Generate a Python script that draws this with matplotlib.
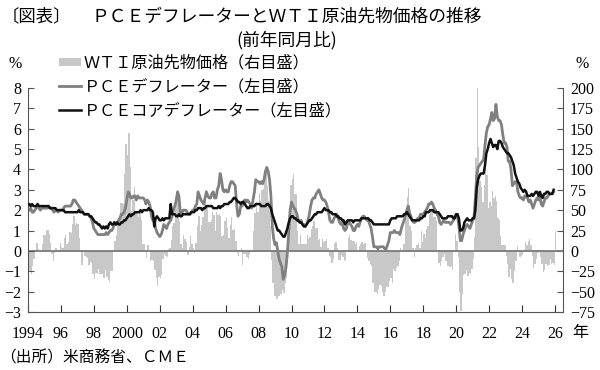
import matplotlib
matplotlib.use("Agg")
import matplotlib.pyplot as plt
import matplotlib.dates as mdates
import pandas as pd
from matplotlib.patches import Patch

# PCE deflator, y/y % (monthly, Jan 1994 - Dec 2025)
pce = [
    2.0, 2.0, 2.1, 1.9, 1.9, 2.0, 2.1, 2.2, 2.1, 2.0, 2.1, 2.1,  # 1994
    2.1, 2.1, 2.1, 2.2, 2.1, 2.1, 2.0, 1.9, 2.0, 2.0, 1.9, 2.0,  # 1995
    2.0, 2.0, 2.1, 2.2, 2.2, 2.2, 2.2, 2.2, 2.3, 2.5, 2.5, 2.4,  # 1996
    2.3, 2.2, 2.1, 2.0, 1.9, 1.8, 1.8, 1.8, 1.8, 1.7, 1.6, 1.4,  # 1997
    1.1, 1.0, 0.9, 0.8, 0.8, 0.8, 0.8, 0.8, 0.8, 0.9, 0.8, 0.9,  # 1998
    1.0, 1.0, 1.1, 1.4, 1.3, 1.3, 1.5, 1.6, 1.8, 1.8, 1.9, 2.1,  # 1999
    2.5, 2.9, 2.8, 2.6, 2.6, 2.7, 2.7, 2.5, 2.7, 2.6, 2.6, 2.6,  # 2000
    2.6, 2.5, 2.3, 2.5, 2.4, 2.2, 1.7, 1.5, 1.5, 1.1, 0.9, 0.8,  # 2001
    0.7, 0.8, 1.0, 1.3, 1.2, 1.1, 1.3, 1.4, 1.5, 1.7, 2.0, 2.2,  # 2002
    2.5, 2.9, 2.7, 1.9, 1.8, 2.0, 2.0, 2.0, 1.9, 1.8, 1.8, 1.9,  # 2003
    2.0, 2.0, 2.2, 2.3, 2.9, 2.7, 2.5, 2.4, 2.3, 2.6, 2.9, 2.7,  # 2004
    2.6, 2.6, 2.8, 2.9, 2.6, 2.6, 3.0, 3.2, 3.8, 3.5, 3.0, 2.9,  # 2005
    3.0, 2.9, 2.9, 3.2, 3.4, 3.4, 3.3, 3.2, 2.3, 1.7, 1.8, 2.2,  # 2006
    2.2, 2.4, 2.5, 2.4, 2.5, 2.4, 2.3, 2.1, 2.5, 2.9, 3.5, 3.4,  # 2007
    3.4, 3.3, 3.4, 3.3, 3.5, 3.9, 4.1, 3.9, 3.5, 2.7, 1.2, 0.6,  # 2008
    0.3, 0.4, 0.0, -0.4, -0.6, -0.8, -1.4, -1.2, -0.8, -0.1, 1.0, 2.0,  # 2009
    2.4, 2.2, 2.1, 2.0, 1.8, 1.5, 1.4, 1.5, 1.3, 1.3, 1.2, 1.3,  # 2010
    1.5, 1.8, 2.2, 2.5, 2.6, 2.6, 2.8, 2.9, 3.0, 2.8, 2.6, 2.5,  # 2011
    2.5, 2.4, 2.2, 1.9, 1.5, 1.4, 1.4, 1.6, 1.7, 1.8, 1.6, 1.4,  # 2012
    1.3, 1.4, 1.1, 1.0, 1.1, 1.4, 1.4, 1.3, 1.2, 1.0, 1.0, 1.2,  # 2013
    1.3, 1.2, 1.4, 1.6, 1.7, 1.7, 1.6, 1.5, 1.5, 1.3, 1.1, 0.7,  # 2014
    0.2, 0.2, 0.2, 0.1, 0.2, 0.2, 0.2, 0.2, 0.1, 0.1, 0.3, 0.5,  # 2015
    0.9, 0.9, 0.9, 1.0, 0.9, 0.9, 0.9, 0.8, 1.1, 1.3, 1.5, 1.7,  # 2016
    2.0, 2.2, 1.9, 1.7, 1.5, 1.4, 1.4, 1.5, 1.6, 1.6, 1.8, 1.8,  # 2017
    1.8, 1.9, 2.0, 2.1, 2.3, 2.3, 2.4, 2.3, 2.1, 2.0, 1.8, 1.7,  # 2018
    1.4, 1.3, 1.4, 1.5, 1.4, 1.4, 1.4, 1.4, 1.3, 1.4, 1.5, 1.7,  # 2019
    1.8, 1.7, 1.2, 0.5, 0.5, 0.8, 1.0, 1.2, 1.3, 1.2, 1.1, 1.3,  # 2020
    1.5, 1.7, 2.6, 3.7, 4.1, 4.2, 4.3, 4.4, 4.5, 5.2, 5.8, 6.1,  # 2021
    6.2, 6.5, 6.8, 6.4, 6.5, 7.2, 6.6, 6.4, 6.4, 6.2, 5.7, 5.3,  # 2022
    5.3, 5.1, 4.4, 4.4, 4.0, 3.2, 3.3, 3.4, 3.4, 2.9, 2.7, 2.6,  # 2023
    2.6, 2.5, 2.7, 2.7, 2.6, 2.4, 2.5, 2.3, 2.1, 2.3, 2.5, 2.6,  # 2024
    2.5, 2.7, 2.3, 2.2, 2.4, 2.6, 2.6, 2.7, 2.8, 2.8, 2.8, 2.9,  # 2025
]

# PCE core deflator, y/y %
core = [
    2.3, 2.3, 2.2, 2.3, 2.2, 2.2, 2.2, 2.3, 2.2, 2.2, 2.2, 2.2,  # 1994
    2.2, 2.2, 2.2, 2.2, 2.1, 2.1, 2.1, 2.1, 2.1, 2.0, 2.0, 2.0,  # 1995
    2.0, 2.0, 2.0, 1.9, 1.9, 1.9, 1.9, 1.9, 1.9, 1.9, 1.9, 1.9,  # 1996
    1.9, 2.0, 1.9, 1.9, 1.9, 1.8, 1.8, 1.8, 1.8, 1.7, 1.7, 1.6,  # 1997
    1.5, 1.4, 1.4, 1.3, 1.3, 1.2, 1.1, 1.2, 1.1, 1.2, 1.1, 1.3,  # 1998
    1.4, 1.3, 1.3, 1.4, 1.3, 1.4, 1.3, 1.3, 1.4, 1.4, 1.5, 1.5,  # 1999
    1.6, 1.7, 1.8, 1.7, 1.8, 1.8, 1.9, 1.9, 1.9, 1.9, 2.0, 1.9,  # 2000
    2.0, 2.0, 2.0, 2.0, 2.1, 2.0, 2.0, 1.9, 1.2, 1.6, 1.7, 1.6,  # 2001
    1.5, 1.5, 1.6, 1.5, 1.6, 1.6, 1.6, 1.6, 2.3, 1.8, 1.8, 1.8,  # 2002
    1.7, 1.7, 1.8, 1.7, 1.7, 1.8, 1.8, 1.8, 1.8, 1.8, 1.8, 1.9,  # 2003
    1.9, 1.9, 2.0, 2.0, 2.1, 2.1, 2.1, 2.0, 2.1, 2.1, 2.2, 2.2,  # 2004
    2.2, 2.2, 2.2, 2.1, 2.1, 2.1, 2.1, 2.2, 2.1, 2.2, 2.2, 2.3,  # 2005
    2.3, 2.3, 2.3, 2.4, 2.4, 2.5, 2.6, 2.6, 2.5, 2.4, 2.4, 2.3,  # 2006
    2.4, 2.4, 2.3, 2.2, 2.1, 2.1, 2.2, 2.2, 2.2, 2.2, 2.3, 2.3,  # 2007
    2.3, 2.3, 2.2, 2.2, 2.2, 2.2, 2.3, 2.3, 2.2, 2.1, 1.8, 1.6,  # 2008
    1.4, 1.2, 1.0, 1.0, 0.9, 0.8, 0.7, 0.7, 0.9, 1.1, 1.4, 1.6,  # 2009
    1.7, 1.7, 1.6, 1.6, 1.5, 1.5, 1.4, 1.4, 1.3, 1.2, 1.2, 1.3,  # 2010
    1.4, 1.5, 1.5, 1.6, 1.7, 1.8, 1.8, 1.9, 1.9, 1.9, 1.9, 2.0,  # 2011
    2.1, 2.0, 2.0, 2.0, 1.9, 1.9, 1.8, 1.8, 1.8, 1.7, 1.7, 1.6,  # 2012
    1.6, 1.5, 1.5, 1.3, 1.4, 1.5, 1.5, 1.5, 1.5, 1.4, 1.5, 1.5,  # 2013
    1.5, 1.5, 1.5, 1.6, 1.6, 1.6, 1.6, 1.6, 1.6, 1.5, 1.5, 1.4,  # 2014
    1.3, 1.3, 1.3, 1.3, 1.3, 1.3, 1.3, 1.3, 1.3, 1.3, 1.3, 1.3,  # 2015
    1.5, 1.6, 1.6, 1.6, 1.6, 1.7, 1.7, 1.7, 1.7, 1.7, 1.8, 1.8,  # 2016
    1.9, 1.8, 1.7, 1.6, 1.5, 1.5, 1.5, 1.5, 1.5, 1.5, 1.6, 1.6,  # 2017
    1.7, 1.7, 1.9, 1.9, 1.9, 2.0, 2.0, 2.0, 1.9, 1.9, 1.9, 1.9,  # 2018
    1.8, 1.7, 1.6, 1.6, 1.6, 1.6, 1.7, 1.7, 1.7, 1.7, 1.6, 1.6,  # 2019
    1.8, 1.8, 1.6, 1.0, 1.0, 1.1, 1.4, 1.5, 1.6, 1.5, 1.5, 1.5,  # 2020
    1.6, 1.6, 2.0, 3.1, 3.5, 3.7, 3.8, 3.8, 3.8, 4.2, 4.8, 5.0,  # 2021
    5.3, 5.5, 5.3, 5.1, 5.2, 5.2, 5.0, 5.4, 5.4, 5.3, 5.1, 5.0,  # 2022
    4.9, 4.8, 4.8, 4.7, 4.6, 4.4, 4.2, 3.8, 3.6, 3.4, 3.3, 3.1,  # 2023
    3.0, 2.9, 3.0, 2.9, 2.7, 2.7, 2.7, 2.8, 2.7, 2.8, 2.9, 2.9,  # 2024
    2.7, 2.9, 2.7, 2.6, 2.8, 2.8, 2.9, 2.9, 2.8, 2.8, 2.8, 3.0,  # 2025
]

# WTI crude futures, y/y % (Jan 1994 - Jan 2026)
wti = [
    -21, -26, -28, -19, -10, 0, 10, 2, 0, -2, 8, 19,  # 1994
    20, 26, 26, 21, 10, -4, -12, -3, 3, -2, -1, 10,  # 1995
    5, 3, 16, 19, 8, 11, 23, 22, 33, 43, 32, 34,  # 1996
    33, 16, -2, -17, -2, -6, -8, -9, -17, -14, -15, -28,  # 1997
    -34, -27, -29, -22, -28, -29, -28, -33, -24, -32, -36, -38,  # 1998
    -25, -25, -2, 12, 19, 31, 43, 59, 59, 57, 94, 131,  # 1999
    118, 145, 103, 49, 62, 78, 48, 47, 42, 46, 38, 9,  # 2000
    8, 1, -9, 7, -1, -13, -11, -12, -23, -33, -43, -32,  # 2001
    -33, -30, -10, -4, -6, -8, 2, 4, 13, 30, 34, 52,  # 2002
    67, 73, 37, 8, 4, 20, 14, 11, -5, 5, 18, 9,  # 2003
    4, -3, 10, 30, 43, 24, 32, 42, 62, 75, 56, 35,  # 2004
    36, 38, 48, 44, 24, 48, 44, 45, 43, 18, 20, 37,  # 2005
    40, 28, 16, 32, 42, 26, 27, 12, -3, -6, 1, 4,  # 2006
    -17, -4, -4, -8, -10, -5, 0, -1, 25, 46, 60, 48,  # 2007
    71, 61, 75, 76, 97, 98, 80, 61, 30, -11, -40, -55,  # 2008
    -55, -59, -55, -56, -53, -48, -52, -39, -33, -1, 36, 81,  # 2009
    88, 95, 70, 70, 25, 8, 19, 8, 8, 8, 8, 20,  # 2010
    14, 17, 27, 30, 37, 28, 28, 13, 14, 5, 15, 11,  # 2011
    12, 14, 3, -6, -7, -15, -10, 9, 11, 4, -11, -11,  # 2012
    -5, -7, -13, -11, 0, 16, 19, 13, 12, 12, 9, 11,  # 2013
    0, 6, 9, 11, 8, 10, -1, -9, -12, -16, -19, -39,  # 2014
    -50, -50, -53, -47, -42, -43, -51, -56, -51, -45, -44, -37,  # 2015
    -33, -40, -22, -25, -21, -18, -12, 4, -1, 8, 8, 40,  # 2016
    66, 77, 31, 25, 4, -7, 4, 7, 10, 4, 24, 11,  # 2017
    21, 16, 27, 30, 44, 50, 52, 42, 41, 37, 1, -15,  # 2018
    -19, -12, -7, -4, -13, -19, -19, -20, -19, -24, 0, 21,  # 2019
    12, -8, -50, -74, -53, -30, -29, -23, -31, -27, -28, -22,  # 2020
    -10, 17, 114, 274, 128, 86, 78, 60, 81, 107, 93, 53,  # 2021
    60, 55, 74, 65, 68, 61, 40, 38, 18, 7, 7, 7,  # 2022
    -6, -16, -32, -22, -35, -39, -25, -13, 6, -2, -8, -6,  # 2023
    -5, 1, 11, 7, 12, 14, 7, -6, -21, -16, -10, -3,  # 2024
    1, -8, -16, -26, -24, -16, -18, -17, -10, -16, -15, -17,  # 2025
    24,  # 2026
]

tick_years = list(range(1994, 2027, 2))
tick_labels = ["1994", "96", "98", "2000", "02", "04", "06", "08", "10",
               "12", "14", "16", "18", "20", "22", "24", "26"]
legend_labels = ["ＷＴＩ原油先物価格（右目盛）", "ＰＣＥデフレーター（左目盛）",
                 "ＰＣＥコアデフレーター（左目盛）"]

JP = ["Noto Sans CJK JP", "DejaVu Sans"]
plt.rcParams["font.family"] = ["Liberation Serif", "Noto Sans CJK JP"]
plt.rcParams["axes.unicode_minus"] = True

months = pd.date_range("1994-01-01", periods=len(pce), freq="MS")
# month boundaries for the WTI step area (one more edge than values)
wti_edges = mdates.date2num(pd.date_range("1994-01-01", periods=len(wti) + 1, freq="MS"))

fig = plt.figure(figsize=(6, 3.7), dpi=100)
ax = fig.add_axes([0.0467, 0.157, 0.8917, 0.605])
ax2 = ax.twinx()
ax.set_zorder(ax2.get_zorder() + 1)
ax.patch.set_visible(False)

bar_color = "#c8c8c8"
ax2.stairs(wti, wti_edges, baseline=0, fill=True, color=bar_color, linewidth=0)
ax.axhline(0, color="#7a7a7a", lw=1.3, zorder=1)
l1, = ax.plot(months, pce, color="#808080", lw=2.0, zorder=2)
l2, = ax.plot(months, core, color="#111111", lw=1.8, zorder=3)

ax.set_ylim(-3, 8)
ax2.set_ylim(-75, 200)
ax.set_yticks(range(-3, 9))
ax2.set_yticks(range(-75, 201, 25))
ax.set_xlim(pd.Timestamp("1994-01-01"), pd.Timestamp("2026-06-28"))
ax.set_xticks([pd.Timestamp(f"{y}-01-01") for y in tick_years])
ax.set_xticklabels(tick_labels)

for a in (ax, ax2):
    a.spines["top"].set_visible(False)
    for s in a.spines.values():
        s.set_color("#555555")
ax.spines["right"].set_visible(False)
ax2.spines["left"].set_visible(False)
ax2.spines["bottom"].set_visible(False)

ax.tick_params(axis="y", direction="in", length=4, pad=5, labelsize=11.5, color="#555555")
ax.tick_params(axis="x", direction="in", length=5, pad=10, labelsize=11.5, color="#333333")
ax2.tick_params(axis="y", direction="in", length=4, pad=5, labelsize=11.5, color="#555555")

handles = [Patch(facecolor=bar_color, edgecolor="none"), l1, l2]
fig.legend(handles, legend_labels, loc="upper left", bbox_to_anchor=(0.098, 0.852),
           frameon=False, prop={"family": JP, "size": 11.6}, handlelength=1.4,
           handleheight=0.45, handletextpad=0.15, labelspacing=0.42, borderpad=0,
           borderaxespad=0)

fig.text(0.002, 0.955, "〔図表〕", family=JP, fontsize=12.5, va="center")
fig.text(0.478, 0.955, "ＰＣＥデフレーターとＷＴＩ原油先物価格の推移", family=JP,
         fontsize=12.8, va="center", ha="center")
fig.text(0.478, 0.892, "(前年同月比)", family=JP, fontsize=12.8, va="center", ha="center")
fig.text(0.025, 0.827, "%", fontsize=11.5, va="center", ha="center")
fig.text(0.970, 0.827, "%", fontsize=11.5, va="center", ha="center")
fig.text(0.967, 0.1, "年", family=JP, fontsize=11.5, va="center", ha="center")
fig.text(0.0, 0.032, "（出所）米商務省、ＣＭＥ", family=JP, fontsize=11.3, va="center")

fig.savefig("out.png", dpi=100)
